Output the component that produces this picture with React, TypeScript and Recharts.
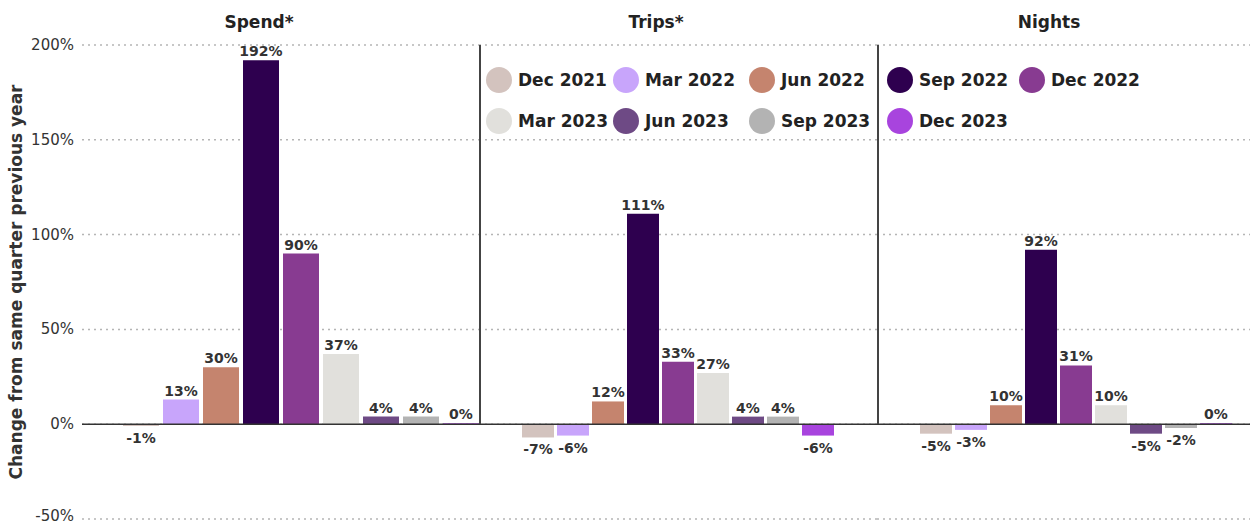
import { BarChart, Bar, XAxis, YAxis, CartesianGrid, ReferenceLine, LabelList } from 'recharts'

const periods = ['Dec 2021', 'Mar 2022', 'Jun 2022', 'Sep 2022', 'Dec 2022', 'Mar 2023', 'Jun 2023', 'Sep 2023', 'Dec 2023']
const colors = ['#d3c3be', '#c8a5fb', '#c5846e', '#2e004f', '#883b91', '#e1e0dc', '#6e4a85', '#b3b3b3', '#a844de']
const panelNames = ['Spend*', 'Trips*', 'Nights']
const spend = [-1, 13, 30, 192, 90, 37, 4, 4, 0]
const trips = [-7, -6, 12, 111, 33, 27, 4, 4, -6]
const nights = [-5, -3, 10, 92, 31, 10, -5, -2, 0]
const yTicks = [-50, 0, 50, 100, 150, 200]

const FONT = '"DejaVu Sans", sans-serif'
const H = 525
const TOP = 45
const BOTTOM = 6
const Y_MIN = -50
const Y_MAX = 200
const plotH = H - TOP - BOTTOM
const zeroY = TOP + (plotH * Y_MAX) / (Y_MAX - Y_MIN)

const toRow = (name: string, values: number[]) => {
  const row: Record<string, any> = { name }
  values.forEach((v, i) => { row['s' + i] = v })
  return row
}

const BarLabel = (props: any) => {
  const { x, y, width, height, value } = props
  if (value == null) return null
  const top = Math.min(y, y + height)
  const bottom = Math.max(y, y + height)
  const cx = x + width / 2
  const neg = value < 0
  return (
    <text
      x={cx}
      y={neg ? bottom + 17 : top - 4}
      textAnchor="middle"
      fontFamily={FONT}
      fontWeight="bold"
      fontSize={14}
      fill="#333"
    >
      {value}%
    </text>
  )
}

// y tick; the bottom one is nudged up so it stays inside the frame
const YTick = (props: any) => {
  const { x, y, payload } = props
  const v = payload.value
  return (
    <text
      x={x}
      y={y + (v === Y_MIN ? 2 : 5)}
      textAnchor="end"
      fontFamily={FONT}
      fontSize={15}
      fill="#333"
    >
      {v}%
    </text>
  )
}

const YTitle = (props: any) => {
  const vb = props.viewBox || { x: 0, y: TOP, height: plotH }
  const cx = vb.x + 16
  const cy = vb.y + vb.height / 2
  return (
    <text
      x={cx}
      y={cy}
      transform={`rotate(-90 ${cx} ${cy})`}
      textAnchor="middle"
      dominantBaseline="central"
      fontFamily={FONT}
      fontWeight="bold"
      fontSize={17}
      fill="#333"
    >
      Change from same quarter previous year
    </text>
  )
}

interface PanelProps {
  name: string
  values: number[]
  left: number
  width: number
  first?: boolean
  barSize: number
  barGap: number
  padLeft: number
}

function Panel({ name, values, left, width, first, barSize, barGap, padLeft }: PanelProps) {
  const data = [toRow(name, values)]
  return (
    <div style={{ position: 'absolute', left, top: 0 }}>
      <BarChart
        width={width}
        height={H}
        data={data}
        margin={{ top: TOP, right: 0, bottom: BOTTOM, left: 0 }}
        barSize={barSize}
        barGap={barGap}
      >
        <CartesianGrid vertical={false} stroke="#b5b5b5" strokeDasharray="2 4" strokeWidth={1.5} />
        <XAxis dataKey="name" hide padding={{ left: padLeft, right: 0 }} />
        <YAxis
          domain={[Y_MIN, Y_MAX]}
          ticks={yTicks}
          interval={0}
          hide={!first}
          width={first ? 82 : 0}
          tickLine={false}
          axisLine={false}
          tick={<YTick />}
          label={first ? <YTitle /> : undefined}
        />
        <ReferenceLine y={0} stroke="#333" strokeWidth={1.5} />
        {periods.map((p, i) => (
          <Bar key={p} dataKey={'s' + i} name={p} fill={colors[i]} minPointSize={1} isAnimationActive={false}>
            <LabelList dataKey={'s' + i} content={<BarLabel />} />
          </Bar>
        ))}
      </BarChart>
      {!first && (
        <div
          style={{
            position: 'absolute',
            left: 0,
            top: TOP,
            width: 1.5,
            height: zeroY - TOP,
            background: '#444',
          }}
        />
      )}
    </div>
  )
}

const titleCenters = [259, 656, 1049]

export default function App() {
  return (
    <div
      style={{
        position: 'absolute',
        left: 0,
        top: 0,
        width: 1250,
        height: H,
        overflow: 'hidden',
        background: '#fff',
        fontFamily: FONT,
      }}
    >
      <Panel name={panelNames[0]} values={spend} left={0} width={479} first barSize={36} barGap={4} padLeft={40} />
      <Panel name={panelNames[1]} values={trips} left={479} width={398} barSize={32} barGap={3} padLeft={0} />
      <Panel name={panelNames[2]} values={nights} left={877} width={398} barSize={32} barGap={3} padLeft={0} />

      {panelNames.map((n, i) => (
        <div
          key={n}
          style={{
            position: 'absolute',
            left: titleCenters[i] - 100,
            top: 12,
            width: 200,
            textAlign: 'center',
            fontWeight: 'bold',
            fontSize: 17,
            lineHeight: '20px',
            color: '#222',
          }}
        >
          {n}
        </div>
      ))}

      {/* legend */}
      <div
        style={{
          position: 'absolute',
          left: 486,
          top: 67,
          display: 'grid',
          gridTemplateColumns: '127px 136px 138px 132px auto',
          rowGap: 15,
        }}
      >
        {periods.map((p, i) => (
          <div key={p} style={{ display: 'flex', alignItems: 'center', height: 26 }}>
            <span
              style={{
                width: 26,
                height: 26,
                borderRadius: 13,
                background: colors[i],
                display: 'inline-block',
                marginRight: 6,
              }}
            />
            <span style={{ fontWeight: 'bold', fontSize: 17, color: '#222' }}>{p}</span>
          </div>
        ))}
      </div>
    </div>
  )
}
